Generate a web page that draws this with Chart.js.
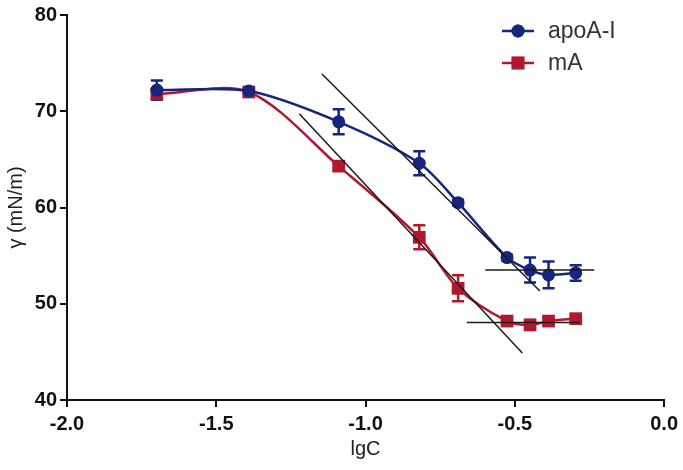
<!DOCTYPE html>
<html>
<head>
<meta charset="utf-8">
<script src="https://cdn.jsdelivr.net/npm/chart.js@4"></script>
<style>
  body { margin: 0; background: #fff; }
</style>
</head>
<body>
<canvas id="myChart" width="683" height="470"></canvas>
<script>
// lgC values (same for both series)
let lgC = [-1.699, -1.391, -1.09, -0.82, -0.69, -0.526, -0.449, -0.387, -0.296]

let apoA = [72.2, 72.1, 68.9, 64.6, 60.5, 54.8, 53.5, 53.0, 53.2]
let apoErr = [1.0, 0.3, 1.3, 1.25, 0.3, 0.3, 1.3, 1.4, 0.8]

let mA = [71.8, 72.0, 64.3, 56.9, 51.6, 48.2, 47.8, 48.2, 48.45]
let mAErr = [0.4, 0.3, 0.4, 1.25, 1.35, 0.3, 0.5, 0.3, 0.3]

// black guide lines (end points in data units)
let tanApoX = [-1.146, -0.416], tanApoY = [73.87, 51.33]
let tanMaX = [-1.222, -0.475], tanMaY = [69.74, 44.89]
let baseApoX = [-0.599, -0.234], baseApoY = [53.5, 53.5]
let baseMaX = [-0.661, -0.285], baseMaY = [48.05, 48.05]

let xTicks = [-2.0, -1.5, -1.0, -0.5, 0.0]
let yTicks = [40, 50, 60, 70, 80]

const blue = '#16267c'
const red = '#b0192d'

function pts(xs, ys) {
    return xs.map((x, i) => ({ x: x, y: ys[i] }))
}

function guide(xs, ys) {
    return {
        data: pts(xs, ys),
        showLine: true,
        borderColor: '#1a1a1a',
        borderWidth: 1.5,
        pointRadius: 0,
        tension: 0,
        errs: null
    }
}

// draws vertical error bars with caps using the chart scales
let errorBars = {
    id: 'errorBars',
    beforeDatasetsDraw(chart) {
        let ctx = chart.ctx
        let xs = chart.scales.x, ys = chart.scales.y
        chart.data.datasets.forEach(ds => {
            if (!ds.errs) return
            ctx.save()
            ctx.strokeStyle = ds.borderColor
            ctx.lineWidth = 2.5
            ds.data.forEach((p, i) => {
                let e = ds.errs[i]
                let px = xs.getPixelForValue(p.x)
                let top = ys.getPixelForValue(p.y + e)
                let bot = ys.getPixelForValue(p.y - e)
                ctx.beginPath()
                ctx.moveTo(px, top)
                ctx.lineTo(px, bot)
                ctx.moveTo(px - 6, top)
                ctx.lineTo(px + 6, top)
                ctx.moveTo(px - 6, bot)
                ctx.lineTo(px + 6, bot)
                ctx.stroke()
            })
            ctx.restore()
        })
    }
}

// legend with line through the marker, like the original
let sideLegend = {
    id: 'sideLegend',
    afterDraw(chart) {
        let ctx = chart.ctx
        let items = [
            { label: 'apoA-I', color: blue, style: 'circle', r: 6.5, y: 31 },
            { label: 'mA', color: red, style: 'rect', r: 9, y: 63 }
        ]
        ctx.save()
        items.forEach(it => {
            ctx.strokeStyle = it.color
            ctx.lineWidth = 2.5
            ctx.beginPath()
            ctx.moveTo(502, it.y)
            ctx.lineTo(534, it.y)
            ctx.stroke()
            ctx.fillStyle = it.color
            Chart.helpers.drawPoint(ctx, { pointStyle: it.style, radius: it.r, rotation: 0, borderWidth: 0 }, 518, it.y)
            ctx.fill()
            ctx.fillStyle = '#333'
            ctx.font = '23px "Liberation Sans", Arial, sans-serif'
            ctx.textBaseline = 'middle'
            ctx.textAlign = 'left'
            ctx.fillText(it.label, 548, it.y + 1)
        })
        ctx.restore()
    }
}

let tickFont = { family: '"Liberation Sans", Arial, sans-serif', size: 20, weight: 'bold' }
let titleFont = { family: '"Liberation Sans", Arial, sans-serif', size: 20 }

var myChart = new Chart('myChart', {
    type: 'scatter',
    data: {
        datasets: [
            guide(tanApoX, tanApoY),
            guide(tanMaX, tanMaY),
            guide(baseApoX, baseApoY),
            guide(baseMaX, baseMaY),
            {
                label: 'apoA-I',
                data: pts(lgC, apoA),
                errs: apoErr,
                showLine: true,
                tension: 0.3,
                borderColor: blue,
                backgroundColor: blue,
                borderWidth: 2.5,
                pointStyle: 'circle',
                pointRadius: 6.5,
                pointBorderWidth: 0
            }, {
                label: 'mA',
                data: pts(lgC, mA),
                errs: mAErr,
                showLine: true,
                tension: 0.3,
                borderColor: red,
                backgroundColor: red,
                borderWidth: 2.5,
                pointStyle: 'rect',
                pointRadius: 9,
                pointBorderWidth: 0
            }
        ]
    },
    options: {
        responsive: false,
        animation: false,
        layout: { padding: { left: 0, right: 18, top: 13, bottom: 0 } },
        plugins: { legend: { display: false }, tooltip: { enabled: false } },
        scales: {
            x: {
                type: 'linear',
                min: -2, max: 0,
                afterBuildTicks: s => { s.ticks = xTicks.map(v => ({ value: v })) },
                afterFit: s => { s.height = 70 },
                ticks: { color: '#111', font: tickFont, padding: 5, callback: v => v.toFixed(1), maxRotation: 0 },
                grid: { drawOnChartArea: false, drawTicks: true, tickLength: 7, color: '#111', lineWidth: 2 },
                border: { color: '#111', width: 2 },
                title: { display: true, text: 'lgC', color: '#222', font: titleFont, padding: { top: 0, bottom: 9 } }
            },
            y: {
                min: 40, max: 80,
                afterBuildTicks: s => { s.ticks = yTicks.map(v => ({ value: v })) },
                afterFit: s => { s.width = 67 },
                ticks: { color: '#111', font: tickFont, padding: 3 },
                grid: { drawOnChartArea: false, drawTicks: true, tickLength: 7, color: '#111', lineWidth: 2 },
                border: { color: '#111', width: 2 },
                title: { display: true, text: 'γ (mN/m)', color: '#222', font: titleFont, padding: { top: 4, bottom: 0 } }
            }
        }
    },
    plugins: [errorBars, sideLegend]
})
</script>
</body>
</html>
